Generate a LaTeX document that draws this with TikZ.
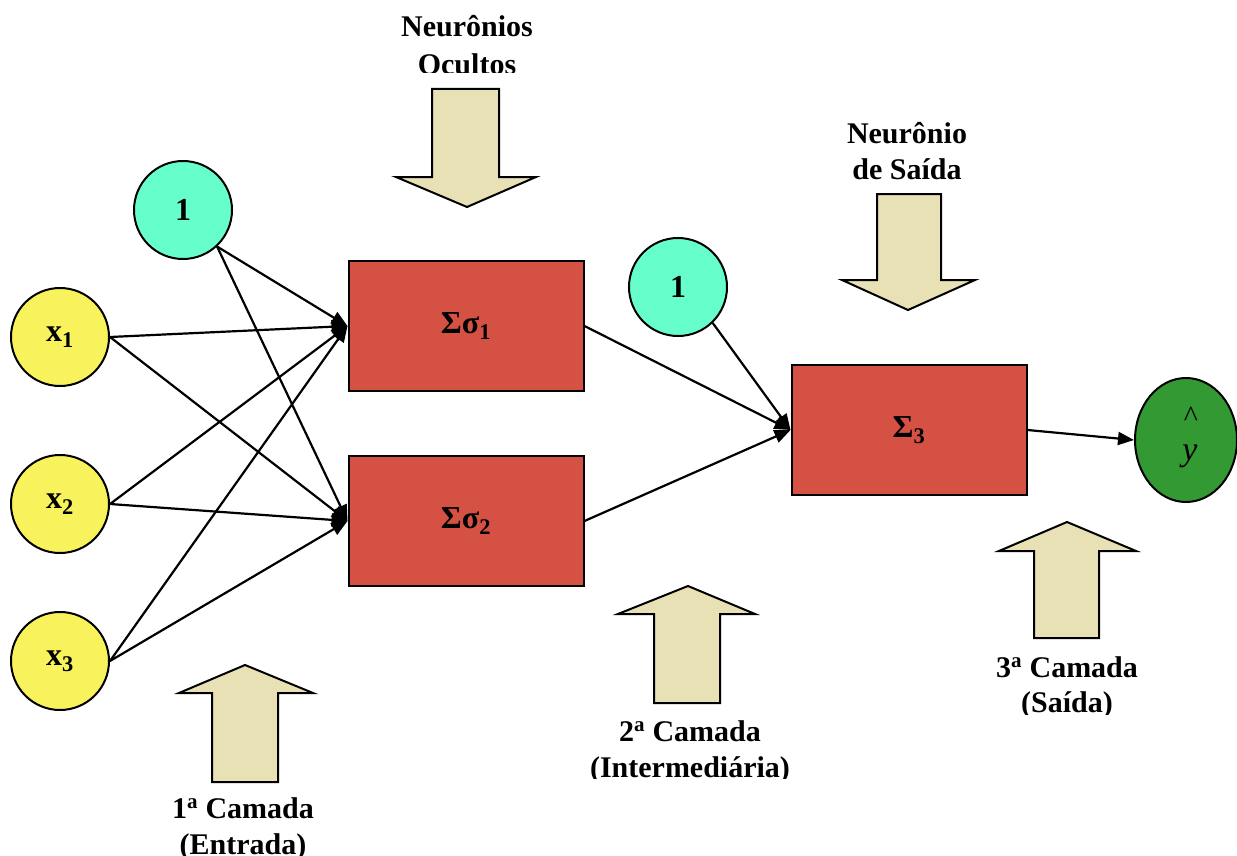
\documentclass[tikz,border=0pt]{standalone}
\usepackage{fontspec}
\setmainfont{Liberation Serif}
\usetikzlibrary{arrows.meta,shapes.geometric}

\definecolor{inyellow}{HTML}{F8F25C}
\definecolor{biascyan}{HTML}{66FFCC}
\definecolor{sumred}{HTML}{D45143}
\definecolor{outgreen}{HTML}{339933}
\definecolor{pointer}{HTML}{E8E1B5}

\begin{document}
\begin{tikzpicture}[x=1pt,y=-1pt,
  every node/.style={inner sep=0pt},
  labelfont/.style={font=\fontsize{30}{36}\selectfont\bfseries},
  neuron/.style={circle,draw,line width=2pt,minimum size=98pt,inner sep=0pt,
    font=\fontsize{32}{36}\selectfont\bfseries},
  inputn/.style={neuron,fill=inyellow},
  biasn/.style={neuron,fill=biascyan},
  sumbox/.style={rectangle,draw,line width=2pt,fill=sumred,minimum width=235pt,
    minimum height=130pt,font=\fontsize{32}{36}\selectfont\bfseries},
  link/.style={line width=2.2pt,-{Triangle[length=16pt,width=13pt]}},
  blockarrow/.style={draw,line width=2pt,fill=pointer,line join=miter},
  caption/.style={labelfont,anchor=base}
]
\useasboundingbox (0,0) rectangle (1237,856);

% inputs, biases
\node[inputn] (x1) at (60,337) {x\textsubscript{1}};
\node[inputn] (x2) at (60,504) {x\textsubscript{2}};
\node[inputn] (x3) at (60,661) {x\textsubscript{3}};
\node[biasn] (b1) at (183,210) {1};
\node[biasn] (b2) at (678,287) {1};

% summation units
\node[sumbox] (s1) at (466,326) {Σσ\textsubscript{1}};
\node[sumbox] (s2) at (466,521) {Σσ\textsubscript{2}};
\node[sumbox] (s3) at (909,430) {Σ\textsubscript{3}};

% output
\node[ellipse,draw,line width=2pt,fill=outgreen,minimum width=102pt,minimum height=124pt] (yh) at (1186,440) {};
\node[font=\fontsize{30}{30}\selectfont] (hat) at (1191,417) {\textasciicircum};
\node[font=\fontsize{34}{34}\selectfont\itshape] (yv) at (1190,456) {y};

% connections
\foreach \src in {b1.-47,x1.east,x2.east,x3.east}{
  \draw[link] (\src) -- (s1.west);
  \draw[link] (\src) -- (s2.west);
}
\draw[link] (s1.east) -- (s3.west);
\draw[link] (s2.east) -- (s3.west);
\draw[link] (b2.-46) -- (s3.west);
\draw[link] (s3.east) -- (yh.west);

% pointer arrows
\draw[blockarrow] (432,89) -- (499,89) -- (499,177) -- (536,177) -- (467,207)
  -- (396,177) -- (432,177) -- cycle;
\draw[blockarrow] (877,194) -- (941,194) -- (941,280) -- (975,280) -- (908,310)
  -- (842,280) -- (877,280) -- cycle;
\draw[blockarrow] (212,782) -- (278,782) -- (278,693) -- (313,693) -- (245,665)
  -- (179,693) -- (212,693) -- cycle;
\draw[blockarrow] (654,703) -- (720,703) -- (720,614) -- (755,614) -- (688,586)
  -- (618,614) -- (654,614) -- cycle;
\draw[blockarrow] (1034,638) -- (1099,638) -- (1099,551) -- (1136,551) -- (1067,522)
  -- (999,551) -- (1034,551) -- cycle;

% captions
\node[caption] (c1a) at (467,37) {Neurônios};
\begin{scope}
  \clip (300,40) rectangle (640,73);
  \node[caption] (c1b) at (467,75) {Ocultos};
\end{scope}
\node[caption] (c2a) at (907,143) {Neurônio};
\node[caption] (c2b) at (907,179) {de Saída};
\node[caption] (c3a) at (243,818) {1\textsuperscript{a} Camada};
\node[caption] (c3b) at (243,854) {(Entrada)};
\node[caption] (c4a) at (690,741) {2\textsuperscript{a} Camada};
\begin{scope}
  \clip (500,745) rectangle (880,778);
  \node[caption] (c4b) at (690,777) {(Intermediária)};
\end{scope}
\node[caption] (c5a) at (1067,677) {3\textsuperscript{a} Camada};
\begin{scope}
  \clip (950,685) rectangle (1200,714);
  \node[caption] (c5b) at (1067,712) {(Saída)};
\end{scope}
\end{tikzpicture}
\end{document}
